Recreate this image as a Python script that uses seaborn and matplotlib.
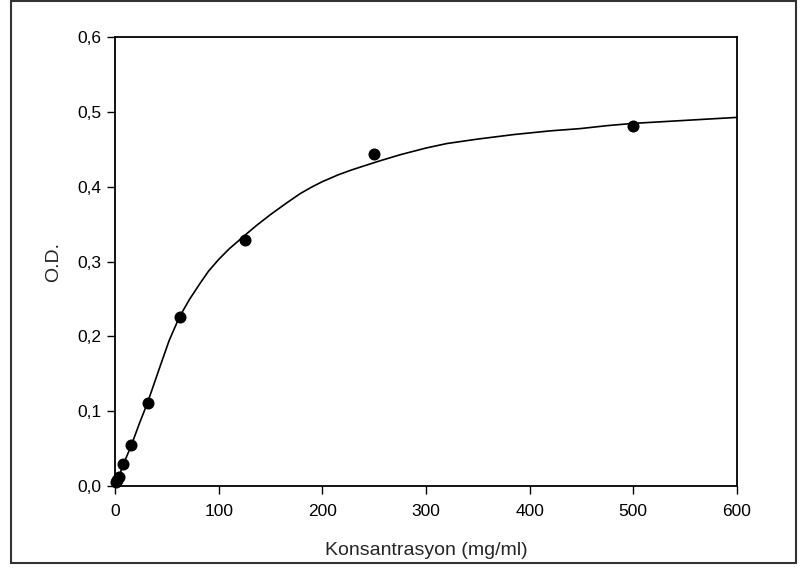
import matplotlib
matplotlib.use("Agg")
import matplotlib.pyplot as plt
import seaborn as sns
import pandas as pd
from matplotlib.patches import Rectangle
from matplotlib.ticker import FuncFormatter

# measured points
conc = [0.98, 1.95, 3.9, 7.8, 15.6, 31.25, 62.5, 125, 250, 500]
od = [0.005, 0.008, 0.012, 0.029, 0.054, 0.111, 0.226, 0.329, 0.444, 0.482]

# fitted curve
fit_x = [0, 4, 8, 15.6, 23, 31.2, 43.4, 52, 62, 72, 82, 90, 100, 110, 125,
         137, 150, 165, 178.6, 190, 200, 215, 226.8, 240, 255.8, 275, 300,
         320, 350, 384.5, 420, 448.8, 475, 500, 550, 600]
fit_y = [0.0, 0.014, 0.029, 0.054, 0.082, 0.111, 0.160, 0.194, 0.226, 0.250,
         0.271, 0.287, 0.303, 0.317, 0.335, 0.349, 0.363, 0.378, 0.391,
         0.400, 0.407, 0.416, 0.422, 0.428, 0.435, 0.443, 0.452, 0.458,
         0.464, 0.470, 0.475, 0.478, 0.482, 0.485, 0.489, 0.493]

pts = pd.DataFrame({"conc": conc, "od": od})
fit = pd.DataFrame({"x": fit_x, "y": fit_y})

sns.set_style("white")
plt.rcParams["font.family"] = ["Liberation Sans", "DejaVu Sans"]

fig = plt.figure(figsize=(8, 5.68), dpi=100)
ax = fig.add_axes([0.144, 0.145, 0.777, 0.789])

sns.lineplot(data=fit, x="x", y="y", ax=ax, color="black", linewidth=1.2)
sns.scatterplot(data=pts, x="conc", y="od", ax=ax, color="black", s=75,
                edgecolor="black", linewidth=0, zorder=5, clip_on=False)

ax.set_xlim(0, 600)
ax.set_ylim(0, 0.6)
ax.set_xticks([0, 100, 200, 300, 400, 500, 600])
ax.set_yticks([0, 0.1, 0.2, 0.3, 0.4, 0.5, 0.6])
ax.yaxis.set_major_formatter(FuncFormatter(lambda v, p: f"{v:.1f}".replace(".", ",")))
ax.tick_params(direction="out", length=6, width=1, colors="black",
               labelsize=12.5, bottom=True, left=True)
ax.tick_params(axis="x", pad=7)
ax.tick_params(axis="y", pad=4)
for s in ax.spines.values():
    s.set_color("black")
    s.set_linewidth(1.3)

ax.set_xlabel("Konsantrasyon (mg/ml)", fontsize=14, labelpad=17)
ax.set_ylabel("O.D.", fontsize=14, labelpad=11)

fig.patches.append(Rectangle((0.014, 0.009), 0.981, 0.989, transform=fig.transFigure,
                             fill=False, edgecolor="#333333", linewidth=1.5))

fig.savefig("out.png", dpi=100)
